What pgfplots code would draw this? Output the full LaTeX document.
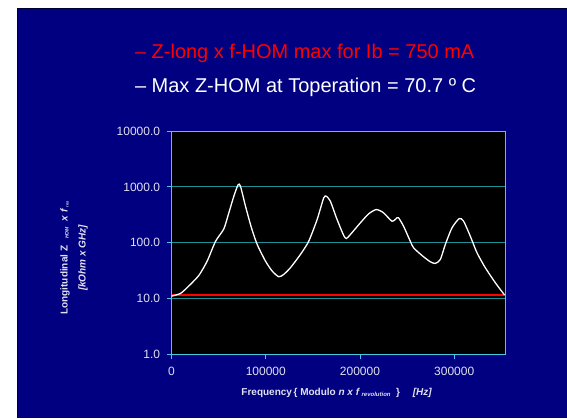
\documentclass[border=0pt]{standalone}
\usepackage{fontspec}
\setmainfont{Liberation Sans}
\usepackage{pgfplots}
\pgfplotsset{compat=1.18}
\definecolor{navybg}{RGB}{0,0,128}
\definecolor{framecol}{RGB}{70,200,230}
\definecolor{gridcol}{RGB}{30,145,150}
\definecolor{labcol}{RGB}{225,225,240}
\begin{document}
\begin{tikzpicture}[x=1pt,y=1pt]
\fill[white] (0,0) rectangle (567,418);
\fill[navybg] (17,0) rectangle (567,410);
\draw[black!60!navybg, line width=1pt] (17.5,0) -- (17.5,409.5) -- (567,409.5);
\useasboundingbox (0,0) rectangle (567,418);
\node[anchor=base west, text=red, font=\fontsize{20}{24}\selectfont, inner sep=0pt] at (135,359.5) {– Z-long x f-HOM max for Ib = 750 mA};
\node[anchor=base west, text=white, font=\fontsize{20}{24}\selectfont, inner sep=0pt] at (135,325) {– Max Z-HOM at Toperation = 70.7 º C};
\begin{axis}[
  at={(171.7pt,63.5pt)}, anchor=south west,
  scale only axis, width=333.8pt, height=223.2pt,
  ymode=log, xmin=0, xmax=354000, ymin=1, ymax=10000,
  axis background/.style={fill=black},
  axis line style={framecol, line width=0.9pt},
  ytick={1,10,100,1000,10000}, yticklabels={1.0,10.0,100.0,1000.0,10000.0},
  xtick={0,100000,200000,300000}, xticklabels={0,100000,200000,300000},
  yminorticks=false, xminorticks=false,
  xtick pos=bottom, ytick pos=left,
  tick align=outside, major tick length=5pt,
  tick style={framecol, line width=0.9pt},
  ymajorgrids, grid style={gridcol, line width=1pt},
  tick label style={font=\fontsize{12}{14}\selectfont, text=labcol},
  xticklabel style={yshift=-4pt},
  yticklabel style={xshift=-3pt},
  /pgf/number format/assume math mode=true,
  scaled x ticks=false,
]
\addplot[red, line width=2pt] coordinates {(0,11.7) (354000,11.7)};
\addplot[white, line width=1.3pt, smooth, tension=0.4] coordinates {
(0,11.0) (9500,12.3) (18300,16.7) (29000,25.9) (37800,46.7) (46700,106)
(55500,177) (60800,343) (66100,680) (70700,1100) (73200,1025) (78500,450)
(84800,185) (90900,93) (99700,46.7) (106800,31) (113800,24.5) (119100,27)
(126200,35.6) (136800,61.5) (145600,106) (154500,260) (161500,636) (164400,680)
(168600,553) (175700,260) (182700,135) (185600,119) (189800,140) (200400,227)
(209200,329) (217400,393) (225100,343) (234000,243) (239300,279) (241000,279)
(246300,197) (253400,106) (256900,81) (265800,59) (274600,45.5) (280000,42.5)
(285300,50) (290600,93) (297700,185) (305400,271) (310000,243) (317100,131)
(324200,66) (333000,35.6) (343600,19.2) (353500,11.5)
};
\end{axis}
\node[rotate=90, align=center, text=labcol, font=\bfseries\fontsize{10}{18}\selectfont] at (74,160)
 {Longitudinal Z\hspace{7pt}{\fontsize{5}{6}\selectfont\raisebox{-1pt}{\textit{HOM}}}\hspace{6pt}\textit{x f}\hspace{1.5pt}{\fontsize{4}{5}\selectfont\raisebox{-1pt}{res}}\\ \textit{[kOhm x GHz]}};
\node[text=labcol, font=\bfseries\fontsize{10}{12}\selectfont] at (337,24.5)
 {Frequency\,\{ Modulo \textit{n x f}\,{\fontsize{6}{7}\selectfont\raisebox{-1pt}{\textit{revolution}}}\ \ \}\quad\ \textit{[Hz]}};
\end{tikzpicture}
\end{document}
